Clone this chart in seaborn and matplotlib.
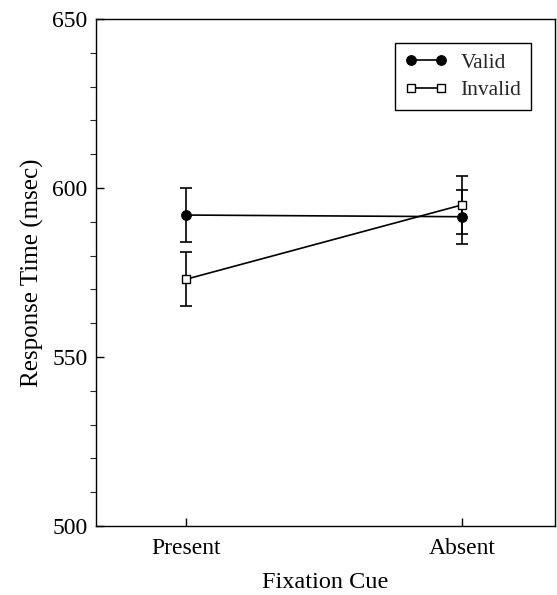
import matplotlib
matplotlib.use("Agg")
import matplotlib.pyplot as plt
import seaborn as sns
import pandas as pd
from matplotlib.ticker import MultipleLocator

categories = ["Present", "Absent"]
valid_rt = [592.0, 591.5]
valid_err = [8.0, 8.0]
invalid_rt = [573.0, 595.0]
invalid_err = [8.0, 8.5]

sns.set_theme(style="ticks")
plt.rcParams["font.family"] = ["Liberation Serif", "DejaVu Serif"]

df = pd.DataFrame({
    "cue": categories * 2,
    "rt": valid_rt + invalid_rt,
    "err": valid_err + invalid_err,
    "cond": ["Valid"] * 2 + ["Invalid"] * 2,
})
df["pos"] = df["cue"].map({c: i for i, c in enumerate(categories)})

fig = plt.figure(figsize=(5.57, 5.95), dpi=100)
ax = fig.add_axes([96 / 557, 1 - 526 / 595, (555 - 96) / 557, (526 - 19) / 595])

styles = {
    "Valid": dict(marker="o", markersize=7, markerfacecolor="black", markeredgecolor="black"),
    "Invalid": dict(marker="s", markersize=5.5, markerfacecolor="white", markeredgecolor="black", markeredgewidth=1.0),
}

for cond in ["Valid", "Invalid"]:
    sub = df[df["cond"] == cond]
    ax.errorbar(sub["pos"], sub["rt"], yerr=sub["err"], fmt="none",
                ecolor="black", elinewidth=1.2, capsize=4.5, capthick=1.2, zorder=2)
    sns.lineplot(data=sub, x="pos", y="rt", ax=ax, color="black", linewidth=1.2,
                 label=cond, zorder=3, **styles[cond])

ax.set_xlim(-0.326, 1.337)
ax.set_ylim(500, 650)
ax.set_xticks(range(len(categories)))
ax.set_xticklabels(categories)
ax.yaxis.set_major_locator(MultipleLocator(50))
ax.yaxis.set_minor_locator(MultipleLocator(10))
ax.tick_params(axis="both", direction="in", labelsize=17, color="black", labelcolor="black")
ax.tick_params(axis="y", which="major", length=6, width=1, pad=6)
ax.tick_params(axis="y", which="minor", length=4, width=0.8)
ax.tick_params(axis="x", which="major", length=6, width=1, pad=9)
ax.set_xlabel("Fixation Cue", fontsize=17.5, labelpad=9, color="black")
ax.set_ylabel("Response Time (msec)", fontsize=18, labelpad=6, color="black")
for s in ax.spines.values():
    s.set_color("black")
    s.set_linewidth(1.0)

leg = ax.legend(loc="upper right", bbox_to_anchor=(0.948, 0.953), borderaxespad=0,
                frameon=True, fancybox=False, numpoints=2,
                edgecolor="black", fontsize=15.5, handlelength=2.0, borderpad=0.45,
                labelspacing=0.35, handletextpad=0.6)
leg.get_frame().set_linewidth(1.0)
leg.get_frame().set_alpha(1)

fig.savefig("out.png", dpi=100)
